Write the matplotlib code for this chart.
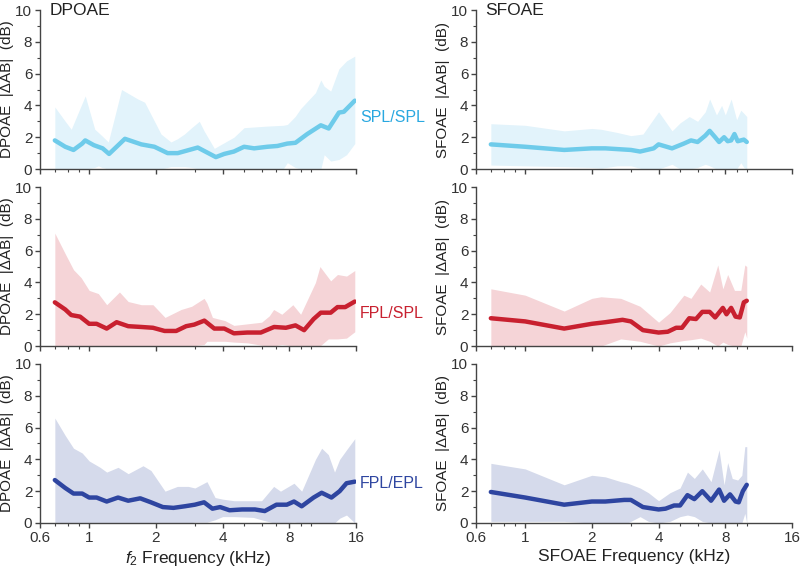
import matplotlib
matplotlib.use("Agg")
import matplotlib.pyplot as plt
from matplotlib.ticker import FixedLocator, NullFormatter

plt.rcParams["font.family"] = ["Liberation Sans", "DejaVu Sans"]
plt.rcParams["mathtext.fontset"] = "custom"
plt.rcParams["mathtext.it"] = "Liberation Sans:italic"
plt.rcParams["mathtext.rm"] = "Liberation Sans"

# ---- DPOAE, SPL/SPL ----
dp_spl_x = [0.70, 0.78, 0.85, 0.93, 0.96, 1.05, 1.15, 1.23, 1.45, 1.72, 1.97, 2.26, 2.51,
            3.09, 3.73, 4.07, 4.5, 5.0, 5.55, 6.37, 7.07, 7.84, 8.53, 9.64, 11.1, 12.05,
            13.4, 14.1, 15.8]
dp_spl_mean = [1.8, 1.4, 1.2, 1.6, 1.8, 1.5, 1.3, 0.95, 1.9, 1.55, 1.4, 1.0, 1.0,
               1.35, 0.75, 0.95, 1.1, 1.4, 1.3, 1.4, 1.45, 1.6, 1.65, 2.2, 2.75, 2.55,
               3.55, 3.6, 4.3]
dp_spl_bx = [0.70, 0.78, 0.83, 0.96, 1.06, 1.1, 1.14, 1.22, 1.4, 1.66, 1.78, 2.11, 2.34,
             2.5, 2.69, 2.9, 3.14, 3.3, 3.67, 4.5, 5.0, 6.37, 7.5, 7.84, 8.5, 9.0, 10.5,
             11.1, 11.5, 12.3, 13.4, 14.5, 15.8]
dp_spl_hi = [3.9, 3.0, 2.5, 4.6, 2.5, 2.3, 2.1, 1.7, 5.0, 4.4, 4.2, 2.2, 1.7,
             1.9, 2.2, 2.6, 3.0, 2.4, 1.3, 2.0, 2.6, 2.7, 2.75, 2.8, 3.3, 3.8, 4.8,
             5.6, 5.2, 4.9, 6.3, 6.8, 7.1]
dp_spl_lo = [0, 0, 0, 0, 0.1, 0.2, 0.1, 0, 0, 0, 0, 0, 0.15,
             0.15, 0.15, 0.1, 0, 0, 0, 0, 0, 0, 0, 0.4, 0.1, 0, 0,
             0, 0.9, 0.5, 0.6, 0.9, 1.6]

# ---- SFOAE, SPL/SPL ----
sf_spl_x = [0.70, 1.0, 1.5, 2.0, 2.3, 3.0, 3.3, 3.8, 4.0, 4.6, 5.2, 5.6, 6.0, 6.5, 6.8,
            7.2, 7.5, 7.9, 8.2, 8.5, 8.8, 9.1, 9.4, 9.7, 10.0]
sf_spl_mean = [1.55, 1.4, 1.2, 1.3, 1.3, 1.2, 1.1, 1.3, 1.55, 1.3, 1.6, 1.8, 1.7, 2.1, 2.4,
               2.0, 1.7, 2.0, 1.75, 1.8, 2.2, 1.75, 1.8, 1.85, 1.7]
sf_spl_bx = [0.70, 1.0, 1.5, 2.0, 2.2, 2.6, 3.0, 3.4, 4.0, 4.6, 5.0, 5.5, 6.0, 6.5, 6.8,
             7.3, 7.7, 8.0, 8.5, 9.0, 9.4, 9.7, 10.0]
sf_spl_hi = [2.85, 2.75, 2.4, 2.55, 2.5, 2.3, 2.1, 2.2, 3.6, 2.4, 2.9, 3.3, 3.0, 3.6, 4.4,
             3.4, 4.0, 3.4, 4.4, 3.1, 3.7, 3.5, 3.3]
sf_spl_lo = [0.25, 0.2, 0.15, 0.1, 0.05, 0.2, 0.2, 0, 0, 0.3, 0, 0, 0.1, 0.3, 0.2,
             0, 0, 0, 0, 0, 0.4, 0.1, 0]

# ---- DPOAE, FPL/SPL ----
dp_fpl_x = [0.70, 0.78, 0.83, 0.91, 1.0, 1.08, 1.2, 1.33, 1.5, 1.72, 1.94, 2.19, 2.47,
            2.74, 2.98, 3.31, 3.67, 4.07, 4.5, 5.17, 5.95, 6.83, 7.72, 8.53, 9.33, 10.3,
            11.1, 12.3, 13.2, 14.3, 15.8]
dp_fpl_mean = [2.75, 2.3, 1.95, 1.85, 1.4, 1.4, 1.1, 1.5, 1.25, 1.2, 1.15, 0.95, 0.95,
               1.25, 1.35, 1.6, 1.1, 1.1, 0.8, 0.85, 0.85, 1.2, 1.15, 1.3, 1.0, 1.7,
               2.1, 2.1, 2.45, 2.45, 2.8]
dp_fpl_bx = [0.70, 0.78, 0.85, 0.92, 1.0, 1.1, 1.2, 1.37, 1.5, 1.72, 1.94, 2.2, 2.6,
             2.9, 3.3, 3.4, 3.6, 4.1, 4.5, 5.2, 6.0, 6.5, 6.8, 7.4, 8.3, 9.0, 10.5,
             11.0, 12.0, 12.3, 13.2, 14.5, 15.8]
dp_fpl_hi = [7.1, 5.8, 4.8, 4.3, 3.5, 3.3, 2.6, 3.4, 2.8, 2.6, 2.6, 1.8, 2.3,
             2.5, 3.0, 2.7, 1.8, 1.6, 1.3, 1.4, 1.5, 1.9, 2.3, 2.0, 2.6, 2.0, 4.0,
             5.0, 4.3, 4.1, 4.5, 4.4, 4.75]
dp_fpl_lo = [0, 0, 0, 0, 0, 0, 0, 0, 0, 0, 0, 0, 0,
             0, 0.1, 0.3, 0.3, 0.3, 0.25, 0.2, 0.05, 0, 0, 0.1, 0, 0, 0,
             0, 0.45, 0.45, 0.45, 0.5, 0.9]

# ---- SFOAE, FPL/SPL ----
sf_fpl_x = [0.70, 1.0, 1.5, 2.0, 2.3, 2.75, 3.0, 3.4, 4.0, 4.4, 4.8, 5.1, 5.5, 5.9, 6.3,
            6.8, 7.2, 7.8, 8.1, 8.5, 8.9, 9.3, 9.7, 10.0]
sf_fpl_mean = [1.75, 1.55, 1.1, 1.4, 1.5, 1.65, 1.55, 1.0, 0.85, 0.9, 1.15, 1.15, 1.75, 1.7, 2.15,
               2.15, 1.8, 2.4, 2.0, 2.4, 1.85, 1.8, 2.75, 2.85]
sf_fpl_bx = [0.70, 1.0, 1.5, 2.0, 2.2, 2.7, 3.3, 4.0, 4.5, 5.2, 5.6, 6.2, 6.8, 7.4, 7.8,
             8.2, 8.8, 9.4, 9.8, 10.0]
sf_fpl_hi = [3.6, 3.2, 2.2, 3.0, 3.1, 3.0, 2.5, 1.5, 2.1, 3.2, 3.0, 3.9, 3.4, 5.1, 3.6,
             4.5, 3.5, 3.5, 5.1, 5.0]
sf_fpl_lo = [0, 0, 0, 0, 0, 0.45, 0.3, 0, 0.2, 0.35, 0.4, 0.5, 0.3, 0, 0.25,
             0.1, 0, 0, 0.9, 0.5]

# ---- DPOAE, FPL/EPL ----
dp_epl_x = [0.70, 0.78, 0.85, 0.93, 1.0, 1.08, 1.2, 1.35, 1.5, 1.7, 1.9, 2.15, 2.4,
            2.7, 3.0, 3.3, 3.6, 3.9, 4.3, 4.9, 5.6, 6.2, 7.0, 7.8, 8.4, 9.1, 10.3,
            11.2, 12.4, 13.5, 14.5, 15.8]
dp_epl_mean = [2.7, 2.2, 1.85, 1.85, 1.6, 1.6, 1.35, 1.6, 1.4, 1.55, 1.3, 1.0, 0.95,
               1.05, 1.15, 1.3, 0.9, 1.0, 0.8, 0.85, 0.85, 0.75, 1.15, 1.15, 1.35, 1.05, 1.6,
               1.9, 1.6, 2.0, 2.5, 2.6]
dp_epl_bx = [0.70, 0.78, 0.85, 0.93, 1.0, 1.12, 1.2, 1.35, 1.5, 1.75, 1.9, 2.2, 2.5,
             2.8, 3.0, 3.4, 3.7, 4.0, 4.5, 5.5, 6.0, 6.8, 7.3, 8.4, 9.1, 10.5,
             11.2, 12.0, 12.8, 13.5, 14.5, 15.8]
dp_epl_hi = [6.6, 5.5, 4.7, 4.4, 3.9, 3.5, 3.2, 3.5, 3.1, 3.6, 3.3, 2.0, 2.3,
             2.3, 2.2, 2.6, 1.6, 1.5, 1.4, 1.4, 1.4, 2.3, 2.0, 2.5, 2.0, 4.0,
             4.7, 4.3, 3.2, 4.0, 4.6, 5.3]
dp_epl_lo = [0, 0, 0, 0, 0, 0, 0, 0, 0, 0, 0, 0, 0,
             0, 0.05, 0.05, 0.2, 0.4, 0.4, 0.35, 0.2, 0, 0, 0.05, 0, 0,
             0, 0, 0, 0.3, 0.5, 0]

# ---- SFOAE, FPL/EPL ----
sf_epl_x = [0.70, 1.0, 1.5, 2.0, 2.3, 2.8, 3.0, 3.4, 4.0, 4.3, 4.7, 5.0, 5.4, 5.8, 6.3,
            6.9, 7.5, 7.9, 8.4, 8.9, 9.2, 9.6, 10.0]
sf_epl_mean = [1.95, 1.6, 1.15, 1.35, 1.35, 1.45, 1.45, 1.0, 0.85, 0.9, 1.1, 1.1, 1.75, 1.5, 2.0,
               1.4, 2.1, 1.4, 1.8, 1.35, 1.3, 2.0, 2.4]
sf_epl_bx = [0.70, 1.0, 1.5, 2.0, 2.3, 2.7, 2.9, 3.3, 3.6, 4.0, 4.5, 5.0, 5.4, 5.8, 6.3,
             6.9, 7.5, 7.9, 8.2, 8.6, 9.1, 9.5, 9.8, 10.0]
sf_epl_hi = [3.75, 3.4, 2.4, 3.0, 2.9, 2.6, 2.5, 2.2, 1.9, 1.4, 1.9, 2.2, 3.2, 2.8, 3.4,
             2.6, 4.6, 2.4, 3.8, 2.8, 2.7, 3.0, 4.8, 4.8]
sf_epl_lo = [0.1, 0.1, 0.1, 0, 0, 0, 0, 0.4, 0.1, 0, 0.1, 0.4, 0.5, 0.4, 0.1,
             0, 0, 0, 0, 0, 0, 0, 0.6, 0]

ROW_NAMES = ["SPL/SPL", "FPL/SPL", "FPL/EPL"]
LINE_COLORS = ["#6ecbea", "#c8202f", "#2e45a0"]
FILL_COLORS = ["#e2f3fb", "#f5d4d7", "#d5daeb"]
LABEL_COLORS = ["#29a8e0", "#c8202f", "#2e45a0"]

DP_ROWS = [
    (dp_spl_x, dp_spl_mean, dp_spl_bx, dp_spl_lo, dp_spl_hi),
    (dp_fpl_x, dp_fpl_mean, dp_fpl_bx, dp_fpl_lo, dp_fpl_hi),
    (dp_epl_x, dp_epl_mean, dp_epl_bx, dp_epl_lo, dp_epl_hi),
]
SF_ROWS = [
    (sf_spl_x, sf_spl_mean, sf_spl_bx, sf_spl_lo, sf_spl_hi),
    (sf_fpl_x, sf_fpl_mean, sf_fpl_bx, sf_fpl_lo, sf_fpl_hi),
    (sf_epl_x, sf_epl_mean, sf_epl_bx, sf_epl_lo, sf_epl_hi),
]

XTICKS = [0.6, 1, 2, 4, 8, 16]
XTICK_LABELS = ["0.6", "1", "2", "4", "8", "16"]
XMINOR = [0.7, 0.8, 0.9, 3, 5, 6, 7, 9, 10]

AX_COLOR = "#444444"


def style_axis(ax, show_xlabels):
    ax.set_xscale("log")
    ax.set_xlim(0.6, 16)
    ax.set_ylim(0, 10)
    ax.xaxis.set_major_locator(FixedLocator(XTICKS))
    ax.xaxis.set_minor_locator(FixedLocator(XMINOR))
    ax.xaxis.set_minor_formatter(NullFormatter())
    if show_xlabels:
        ax.set_xticklabels(XTICK_LABELS)
    else:
        ax.set_xticklabels([])
    ax.set_yticks([0, 2, 4, 6, 8, 10])
    ax.yaxis.set_minor_locator(FixedLocator([1, 3, 5, 7, 9]))
    for side in ["top", "right"]:
        ax.spines[side].set_visible(False)
    for side in ["left", "bottom"]:
        ax.spines[side].set_color(AX_COLOR)
        ax.spines[side].set_linewidth(1.0)
    ax.tick_params(which="major", direction="out", length=3.5, width=1.0,
                   color=AX_COLOR, labelsize=11, labelcolor="#333333", pad=2)
    ax.tick_params(which="minor", direction="out", length=2, width=0.8, color=AX_COLOR)
    ax.patch.set_alpha(0)


fig = plt.figure(figsize=(8.0, 5.72), dpi=100)

lefts = [0.05, 0.595]
bottoms = [0.7045, 0.395, 0.0857]
width = 0.395
height = 0.278

for row in range(3):
    for col, (rows, name) in enumerate([(DP_ROWS, "DPOAE"), (SF_ROWS, "SFOAE")]):
        ax = fig.add_axes([lefts[col], bottoms[row], width, height])
        x, mean, bx, lo, hi = rows[row]
        ax.fill_between(bx, lo, hi, color=FILL_COLORS[row], linewidth=0, zorder=1)
        ax.plot(x, mean, color=LINE_COLORS[row], linewidth=3.2,
                solid_capstyle="round", solid_joinstyle="round", zorder=2)
        style_axis(ax, row == 2)
        ax.set_ylabel(name + "  |\u0394AB|  (dB)", fontsize=11, color="#222222", labelpad=1)
        if row == 0:
            ax.text(0.03, 1.0, name, transform=ax.transAxes, fontsize=12.5,
                    color="#222222", ha="left", va="center")
        if row == 2:
            if col == 0:
                ax.set_xlabel(r"$f_2$ Frequency (kHz)", fontsize=12.5, color="#222222", labelpad=3)
            else:
                ax.set_xlabel("SFOAE Frequency (kHz)", fontsize=12.5, color="#222222", labelpad=3)

label_y = [1 - 117 / 572, 1 - 313 / 572, 1 - 483 / 572]
for row in range(3):
    fig.text(360 / 800, label_y[row], ROW_NAMES[row], color=LABEL_COLORS[row],
             fontsize=11.5, ha="left", va="center")

fig.savefig("out.png", dpi=100)
plt.close(fig)
